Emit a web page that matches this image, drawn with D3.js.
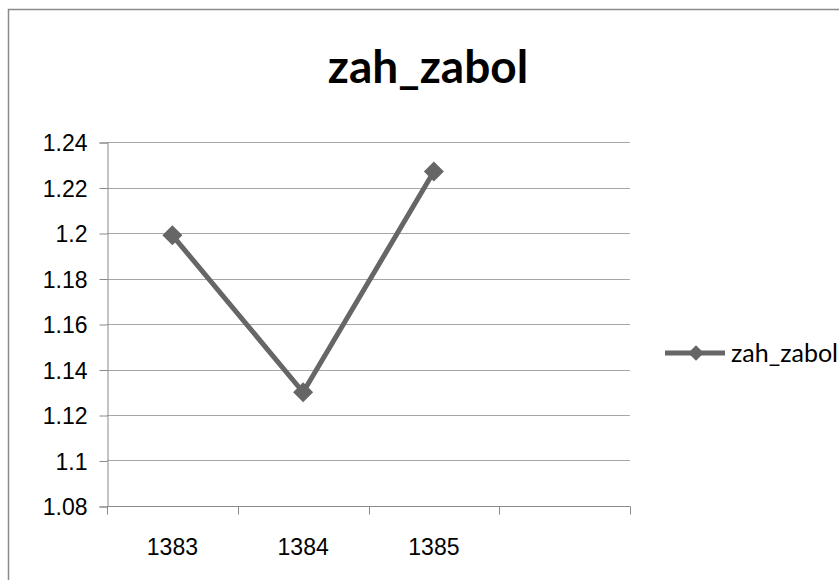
<!DOCTYPE html>
<html lang="en">
<head>
<meta charset="UTF-8">
<title>zah_zabol</title>
<script src="https://d3js.org/d3.v7.min.js"></script>
<style>
  html, body { margin: 0; padding: 0; background: #fff; }
  svg { display: block; font-family: Lato, "Open Sans", sans-serif; }
</style>
</head>
<body>
<div id="chart"></div>
<script>
  // data
  var categories = ["1383", "1384", "1385", ""];
  var values = [1.199, 1.130, 1.227, null];
  var yTicks = [1.08, 1.1, 1.12, 1.14, 1.16, 1.18, 1.2, 1.22, 1.24];
  var seriesName = "zah_zabol";
  var titleText = "zah_zabol";

  // layout
  var W = 839, H = 580;
  var plot = {left: 107, right: 630, top: 142, bottom: 506};
  var lineColor = "#666666";

  var svg = d3.select("#chart").append("svg")
    .attr("width", W)
    .attr("height", H);

  // outer chart frame (runs off the right and bottom edge)
  svg.append("rect")
    .attr("x", 8.5).attr("y", 9.5)
    .attr("width", W + 20).attr("height", H + 20)
    .attr("fill", "#fff")
    .attr("stroke", "#8a8a8a")
    .attr("stroke-width", 1.5);

  // title
  svg.append("text")
    .attr("x", 428).attr("y", 83)
    .attr("text-anchor", "middle")
    .attr("font-size", 46)
    .attr("font-weight", "bold")
    .attr("fill", "#000")
    .text(titleText);

  var x = d3.scaleBand()
    .domain(categories.map(function(d, i) { return i; }))
    .range([plot.left, plot.right])
    .padding(0);

  var y = d3.scaleLinear()
    .domain([1.08, 1.24])
    .range([plot.bottom, plot.top]);

  // gridlines
  svg.append("g")
    .selectAll("line")
    .data(yTicks.slice(1))
    .join("line")
      .attr("x1", plot.left).attr("x2", plot.right)
      .attr("y1", function(d) { return Math.round(y(d)) + 0.5; })
      .attr("y2", function(d) { return Math.round(y(d)) + 0.5; })
      .attr("stroke", "#a6a6a6")
      .attr("stroke-width", 1);

  // y axis
  var yAxis = svg.append("g")
    .attr("transform", "translate(" + (plot.left + 0.5) + ",0.5)")
    .call(d3.axisLeft(y)
      .tickValues(yTicks)
      .tickSize(8)
      .tickPadding(12)
      .tickFormat(function(d) { return String(+d.toFixed(2)); }));
  yAxis.select(".domain").attr("stroke", "#8a8a8a");
  yAxis.selectAll(".tick line").attr("stroke", "#8a8a8a");
  yAxis.selectAll(".tick text")
    .attr("font-size", 23)
    .attr("fill", "#000")
    .attr("dy", "0.36em");

  // x axis: labels centred on categories, ticks on category boundaries
  var xAxis = svg.append("g")
    .attr("transform", "translate(0," + (plot.bottom + 0.5) + ")")
    .call(d3.axisBottom(x)
      .tickSize(0)
      .tickPadding(32)
      .tickFormat(function(i) { return categories[i]; }));
  xAxis.select(".domain")
    .attr("d", "M" + plot.left + ",0H" + plot.right)
    .attr("stroke", "#8a8a8a");
  xAxis.selectAll(".tick text")
    .attr("font-size", 23)
    .attr("fill", "#000");

  var bounds = categories.map(function(d, i) { return x(i); }).concat([x.range()[1]]);
  xAxis.selectAll(".bound")
    .data(bounds)
    .join("line")
      .attr("class", "bound")
      .attr("x1", function(d) { return Math.round(d) + 0.5; })
      .attr("x2", function(d) { return Math.round(d) + 0.5; })
      .attr("y1", 0).attr("y2", 8)
      .attr("stroke", "#8a8a8a");

  // series
  var pts = values.map(function(v, i) { return {i: i, v: v}; });
  var line = d3.line()
    .defined(function(d) { return d.v != null; })
    .x(function(d) { return x(d.i) + x.bandwidth() / 2; })
    .y(function(d) { return y(d.v); });

  svg.append("path")
    .datum(pts)
    .attr("d", line)
    .attr("fill", "none")
    .attr("stroke", lineColor)
    .attr("stroke-width", 5)
    .attr("stroke-linejoin", "round");

  var diamond = d3.symbol().type(d3.symbolSquare).size(200);
  svg.append("g")
    .selectAll("path")
    .data(pts.filter(function(d) { return d.v != null; }))
    .join("path")
      .attr("d", diamond)
      .attr("transform", function(d) {
        return "translate(" + (x(d.i) + x.bandwidth() / 2) + "," + y(d.v) + ") rotate(45)";
      })
      .attr("fill", lineColor);

  // legend
  var legend = svg.append("g").attr("transform", "translate(665,353)");
  legend.append("line")
    .attr("x1", 0).attr("x2", 60)
    .attr("stroke", lineColor)
    .attr("stroke-width", 5);
  legend.append("path")
    .attr("d", d3.symbol().type(d3.symbolSquare).size(120))
    .attr("transform", "translate(31,0) rotate(45)")
    .attr("fill", lineColor);
  legend.append("text")
    .attr("x", 66).attr("y", 0)
    .attr("dy", "0.36em")
    .attr("font-size", 25)
    .attr("fill", "#000")
    .text(seriesName);
</script>
</body>
</html>
